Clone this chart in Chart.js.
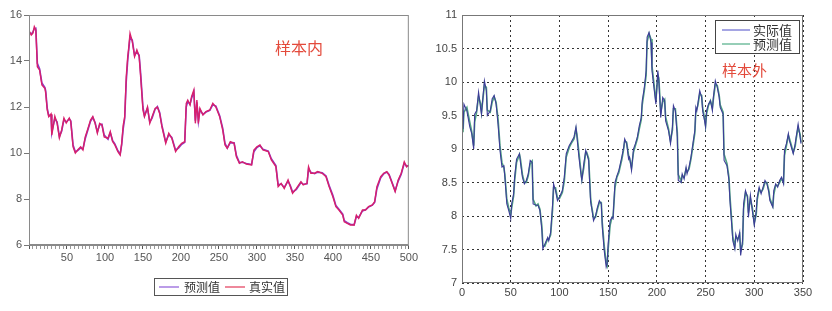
<!DOCTYPE html>
<html>
<head>
<meta charset="utf-8">
<script src="https://cdn.jsdelivr.net/npm/chart.js@4.4.1/dist/chart.umd.min.js"></script>
<style>
	body { margin: 0; background: #fff; }
	#inSample { position: absolute; left: 0; top: 0; }
	#outSample { position: absolute; left: 420px; top: 0; }
</style>
</head>
<body>
<canvas id="inSample" width="420" height="311"></canvas>
<canvas id="outSample" width="412" height="311"></canvas>
<script>
// in-sample (left panel)
var inX = [1,3,5,7,9,11,14,17,21,22,24,26,29,30,34,37,40,43,46,49,
	53,55,58,61,64,68,71,74,77,81,84,87,90,93,96,99,104,107,110,113,
	117,120,122,124,126,128,130,131,133,136,139,142,145,147,150,152,156,159,162,166,
	169,172,175,180,184,188,193,197,201,205,207,209,212,214,217,219,221,223,225,229,
	233,238,242,246,251,255,258,261,265,270,273,277,281,286,293,296,300,304,308,315,
	319,325,328,332,336,341,344,347,352,358,361,366,368,371,376,380,386,391,395,400,
	404,408,413,415,419,423,428,431,434,439,443,447,452,455,458,463,467,471,474,478,
	482,486,490,494,497,500];
var inActual = [15.27,15.13,15.20,15.49,15.35,13.75,13.60,12.96,12.80,12.60,11.87,11.58,11.70,10.78,11.60,11.30,10.65,11.00,11.52,11.30,
	11.52,11.36,10.27,10.00,10.13,10.27,10.13,10.70,11.00,11.43,11.58,11.29,10.86,11.29,11.22,10.70,10.64,10.93,10.50,10.35,
	10.06,9.91,10.42,11.20,11.58,13.30,14.20,14.48,15.20,14.84,14.19,14.48,14.20,13.30,11.87,11.58,12.00,11.29,11.58,11.94,
	12.00,11.72,11.14,10.42,10.86,10.64,10.06,10.27,10.42,10.49,12.16,12.30,12.09,12.45,12.74,11.29,12.30,11.29,11.94,11.65,
	11.80,11.87,12.16,12.00,11.58,11.00,10.35,10.20,10.49,10.42,9.84,9.55,9.62,9.52,9.48,10.13,10.27,10.35,10.13,10.06,
	9.70,9.41,8.54,8.68,8.46,8.83,8.54,8.25,8.46,8.75,8.61,8.68,9.40,9.12,9.12,9.19,9.12,8.97,8.54,8.10,
	7.67,7.52,7.30,7.01,6.94,6.87,6.87,7.30,7.16,7.52,7.52,7.67,7.74,7.88,8.54,8.97,9.12,9.19,9.04,8.68,
	8.32,8.83,9.12,9.62,9.40,9.48];
var inPredicted = [15.20,15.18,15.25,15.40,15.42,13.90,13.65,13.05,12.85,12.70,11.95,11.62,11.65,10.90,11.50,11.35,10.72,10.95,11.45,11.35,
	11.48,11.40,10.35,10.05,10.10,10.22,10.18,10.62,10.95,11.38,11.55,11.33,10.92,11.22,11.25,10.78,10.60,10.88,10.55,10.40,
	10.10,9.95,10.35,11.05,11.50,13.10,14.05,14.40,15.05,14.90,14.25,14.40,14.25,13.45,12.00,11.62,11.95,11.35,11.52,11.90,
	12.02,11.76,11.20,10.48,10.80,10.68,10.12,10.22,10.38,10.47,12.00,12.25,12.12,12.38,12.65,11.40,12.20,11.38,11.88,11.68,
	11.78,11.85,12.10,12.04,11.62,11.08,10.42,10.22,10.45,10.44,9.90,9.58,9.60,9.54,9.50,10.05,10.24,10.32,10.16,10.08,
	9.75,9.45,8.62,8.65,8.50,8.78,8.58,8.30,8.42,8.72,8.64,8.66,9.30,9.16,9.10,9.17,9.14,9.00,8.60,8.16,
	7.72,7.55,7.34,7.06,6.97,6.90,6.88,7.24,7.20,7.48,7.53,7.65,7.73,7.85,8.45,8.92,9.10,9.17,9.07,8.72,
	8.36,8.78,9.08,9.55,9.43,9.45];
var inLabels = ['预测值', '真实值'];
var inTitle = '样本内';

// out-of-sample (right panel)
var outX = [1,2,5,8,10,12,13,15,17,19,20,23,25,26,29,31,33,35,37,39,
	41,43,44,46,48,50,51,53,54,56,59,60,62,64,66,68,70,72,73,76,
	78,80,82,83,85,88,89,91,93,94,96,98,100,103,105,107,110,112,115,117,
	118,120,122,123,125,127,128,130,132,133,135,137,139,141,143,144,146,148,149,150,
	152,154,155,157,159,161,164,166,167,169,171,172,174,176,178,180,182,184,185,187,
	189,190,192,194,195,197,199,201,202,204,206,208,209,212,214,216,217,219,221,222,
	225,226,228,230,231,233,235,237,239,240,241,242,244,246,247,249,250,251,253,255,
	257,258,260,262,264,265,268,269,272,274,275,277,278,280,281,283,285,286,288,289,
	291,293,294,296,298,300,302,303,305,307,309,311,313,315,316,319,320,322,324,326,
	328,330,331,333,335,336,338,340,342,343,345,347,348];
var outActual = [9.30,9.67,9.57,9.33,9.23,9.00,9.52,9.57,9.85,9.62,9.52,10.02,9.87,9.50,9.57,9.75,9.80,9.67,9.37,8.98,
	8.73,8.75,8.58,8.18,8.08,7.96,8.18,8.33,8.58,8.85,8.93,8.80,8.58,8.48,8.53,8.63,8.83,8.80,8.18,8.16,
	8.16,8.08,7.78,7.51,7.58,7.68,7.63,7.76,8.18,8.48,8.38,8.23,8.28,8.38,8.58,8.93,9.05,9.10,9.18,9.33,
	9.18,8.88,8.63,8.53,8.78,8.98,8.93,8.83,8.21,8.13,7.93,8.00,8.13,8.23,8.18,7.83,7.48,7.24,7.29,7.58,
	7.93,7.98,7.96,8.50,8.60,8.68,8.88,9.03,9.15,9.08,8.85,8.88,8.68,9.00,9.08,9.18,9.35,9.47,9.72,9.90,
	10.17,10.67,10.74,10.59,10.17,9.92,9.67,10.17,10.02,9.47,9.77,9.72,9.42,9.27,9.08,9.33,9.65,9.57,9.18,8.53,
	8.50,8.63,8.55,8.73,8.63,8.73,8.88,9.08,9.28,9.62,9.57,9.67,9.87,9.77,9.57,9.42,9.33,9.57,9.67,9.72,
	9.57,9.77,10.02,9.92,9.77,9.62,9.52,8.83,8.75,8.53,8.23,7.83,7.63,7.51,7.73,7.63,7.76,7.41,7.63,8.18,
	8.38,8.28,7.98,8.31,8.08,7.86,8.08,8.28,8.43,8.33,8.43,8.53,8.48,8.35,8.23,8.13,8.38,8.48,8.43,8.53,
	8.58,8.48,8.98,9.08,9.23,9.13,9.03,8.93,9.08,9.18,9.37,9.18,9.08];
var outPredicted = [9.25,9.55,9.62,9.40,9.26,9.05,9.40,9.55,9.78,9.68,9.55,9.95,9.92,9.58,9.55,9.70,9.78,9.70,9.45,9.05,
	8.80,8.72,8.62,8.25,8.12,8.02,8.12,8.30,8.52,8.80,8.92,8.85,8.62,8.50,8.50,8.60,8.78,8.82,8.25,8.15,
	8.18,8.10,7.85,7.56,7.55,7.66,7.65,7.72,8.10,8.42,8.42,8.27,8.26,8.35,8.52,8.88,9.02,9.08,9.15,9.30,
	9.22,8.95,8.68,8.55,8.72,8.95,8.95,8.86,8.28,8.15,7.98,7.98,8.10,8.20,8.20,7.90,7.55,7.30,7.26,7.50,
	7.86,7.98,7.98,8.42,8.58,8.65,8.84,9.00,9.12,9.10,8.90,8.86,8.72,8.95,9.05,9.15,9.30,9.44,9.66,9.86,
	10.10,10.60,10.72,10.64,10.24,9.98,9.72,10.10,10.06,9.55,9.70,9.74,9.48,9.30,9.12,9.28,9.60,9.60,9.25,8.62,
	8.52,8.60,8.58,8.70,8.66,8.70,8.85,9.04,9.24,9.55,9.60,9.64,9.82,9.80,9.62,9.45,9.35,9.52,9.65,9.72,
	9.62,9.74,9.96,9.95,9.80,9.66,9.55,8.92,8.78,8.58,8.30,7.90,7.68,7.55,7.68,7.66,7.72,7.48,7.58,8.10,
	8.35,8.30,8.05,8.26,8.12,7.90,8.02,8.24,8.40,8.36,8.40,8.50,8.50,8.38,8.26,8.15,8.32,8.46,8.45,8.50,
	8.56,8.50,8.90,9.05,9.20,9.16,9.06,8.95,9.04,9.15,9.32,9.22,9.10];
var outLabels = ['实际值', '预测值'];
var outTitle = '样本外';

function toPoints(xs, ys) {
	var pts = [];
	for (var i in xs) {
		pts.push({x: xs[i], y: ys[i]});
	}
	return pts;
}

Chart.defaults.font.family = "'Liberation Sans', Arial, sans-serif";
Chart.defaults.font.size = 11;
var cjk = "'Noto Sans CJK SC', sans-serif";

// frame, legend box and the red caption for the left panel
var inDecor = {
	id: 'inDecor',
	afterDraw: function(chart) {
		var ctx = chart.ctx;
		var a = chart.chartArea;
		var ds = chart.data.datasets;
		ctx.save();
		ctx.strokeStyle = '#8a8a8a';
		ctx.lineWidth = 1;
		ctx.strokeRect(a.left + 0.5, a.top + 0.5, a.right - a.left - 1, a.bottom - a.top - 1);

		ctx.strokeStyle = '#555';
		ctx.strokeRect(154.5, 278.5, 133, 17);
		ctx.font = '12px ' + cjk;
		ctx.textBaseline = 'middle';
		ctx.fillStyle = '#333';
		ctx.lineWidth = 1.5;
		ctx.strokeStyle = '#a47be0';
		ctx.beginPath(); ctx.moveTo(159, 287); ctx.lineTo(179, 287); ctx.stroke();
		ctx.fillText(ds[0].label, 184, 287);
		ctx.strokeStyle = '#e8607a';
		ctx.beginPath(); ctx.moveTo(225, 287); ctx.lineTo(245, 287); ctx.stroke();
		ctx.fillText(ds[1].label, 249, 287);

		ctx.font = '16px ' + cjk;
		ctx.fillStyle = '#e34a3b';
		ctx.fillText(inTitle, 275, 48);
		ctx.restore();
	}
};

var outDecor = {
	id: 'outDecor',
	afterDraw: function(chart) {
		var ctx = chart.ctx;
		var a = chart.chartArea;
		var ds = chart.data.datasets;
		ctx.save();
		ctx.setLineDash([]);
		ctx.strokeStyle = '#777';
		ctx.lineWidth = 1;
		ctx.strokeRect(a.left + 0.5, a.top + 0.5, a.right - a.left - 1, a.bottom - a.top - 1);

		ctx.fillStyle = '#fff';
		ctx.fillRect(295, 20, 84, 33);
		ctx.strokeStyle = '#444';
		ctx.strokeRect(295.5, 20.5, 84, 33);
		ctx.font = '13px ' + cjk;
		ctx.textBaseline = 'middle';
		ctx.fillStyle = '#333';
		ctx.lineWidth = 1.2;
		ctx.strokeStyle = '#6a6ad0';
		ctx.beginPath(); ctx.moveTo(302, 30); ctx.lineTo(330, 30); ctx.stroke();
		ctx.fillText(ds[0].label, 333, 30);
		ctx.strokeStyle = '#4fae86';
		ctx.beginPath(); ctx.moveTo(302, 44); ctx.lineTo(330, 44); ctx.stroke();
		ctx.fillText(ds[1].label, 333, 44);

		ctx.font = '15px ' + cjk;
		ctx.fillStyle = '#e34a3b';
		ctx.fillText(outTitle, 302, 70);
		ctx.restore();
	}
};

var chartdata = {
	datasets: [
		{
			label: inLabels[0],
			data: toPoints(inX, inPredicted),
			borderColor: '#8a3cc8',
			borderWidth: 1.6,
			order: 1
		},
		{
			label: inLabels[1],
			data: toPoints(inX, inActual),
			borderColor: '#d81f6c',
			borderWidth: 1.4,
			order: 0
		}
	]
};

var ctx = document.getElementById('inSample');
var LineGrap = new Chart(ctx, {
	type: 'line',
	data: chartdata,
	plugins: [inDecor],
	options: {
		responsive: false,
		animation: false,
		layout: { padding: { left: 0, top: 15, right: 8, bottom: 41 } },
		elements: { point: { radius: 0 }, line: { tension: 0 } },
		plugins: { legend: { display: false }, tooltip: { enabled: false } },
		scales: {
			x: {
				type: 'linear',
				min: 0,
				max: 500,
				afterFit: function(s) { s.height = 25; },
				ticks: {
					stepSize: 5,
					autoSkip: false,
					maxRotation: 0,
					color: '#555',
					padding: 2,
					callback: function(v) { return (v > 0 && v % 50 === 0) ? v : ''; }
				},
				grid: {
					drawOnChartArea: false,
					tickLength: 4,
					tickColor: function(c) { return (c.tick && c.tick.value % 50 === 0) ? '#555' : '#999'; }
				},
				border: { color: '#8a8a8a' }
			},
			y: {
				min: 6,
				max: 16,
				afterFit: function(s) { s.width = 29; },
				ticks: { stepSize: 2, color: '#555', padding: 2 },
				grid: { drawOnChartArea: false, tickLength: 5, tickColor: '#777' },
				border: { color: '#8a8a8a' }
			}
		}
	}
});

chartdata = {
	datasets: [
		{
			label: outLabels[0],
			data: toPoints(outX, outActual),
			borderColor: '#3d3d98',
			borderWidth: 1.1,
			order: 0
		},
		{
			label: outLabels[1],
			data: toPoints(outX, outPredicted),
			borderColor: '#4fa282',
			borderWidth: 1.6,
			order: 1
		}
	]
};

ctx = document.getElementById('outSample');
LineGrap = new Chart(ctx, {
	type: 'line',
	data: chartdata,
	plugins: [outDecor],
	options: {
		responsive: false,
		animation: false,
		layout: { padding: { left: 0, top: 15, right: 29, bottom: 8 } },
		elements: { point: { radius: 0 }, line: { tension: 0 } },
		plugins: { legend: { display: false }, tooltip: { enabled: false } },
		scales: {
			x: {
				type: 'linear',
				min: 0,
				max: 350,
				afterFit: function(s) { s.height = 20; },
				ticks: { stepSize: 50, color: '#444', padding: 3, maxRotation: 0 },
				grid: { color: '#333', drawTicks: false },
				border: { display: false, dash: [2, 3] }
			},
			y: {
				min: 7,
				max: 11,
				afterFit: function(s) { s.width = 42; },
				ticks: {
					stepSize: 0.5,
					color: '#444',
					padding: 5,
					callback: function(v) { return '' + v; }
				},
				grid: { color: '#333', drawTicks: false },
				border: { display: false, dash: [2, 3] }
			}
		}
	}
});
</script>
</body>
</html>
